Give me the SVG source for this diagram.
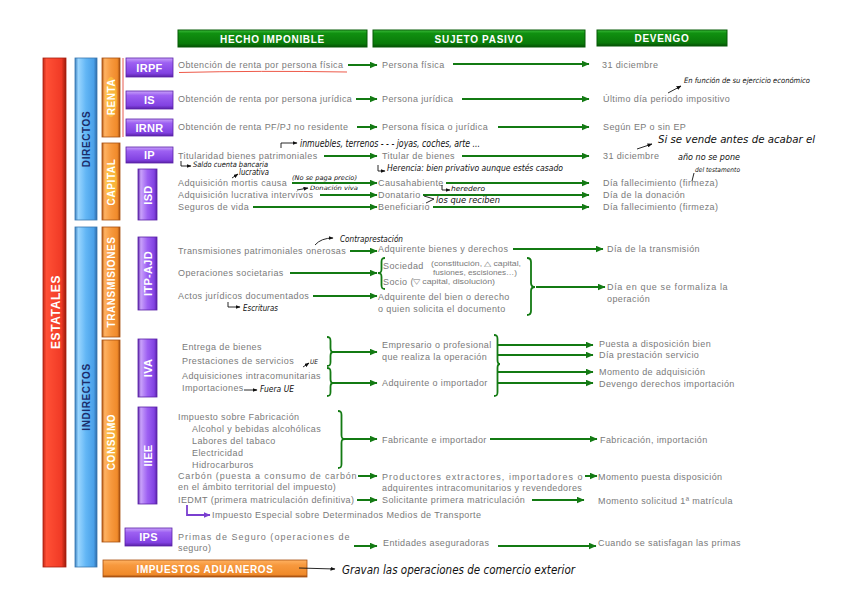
<svg xmlns="http://www.w3.org/2000/svg" width="848" height="599" viewBox="0 0 848 599">
<style>
.t{font-family:"Liberation Sans",Arial,sans-serif;font-size:9px;fill:#7a7a7a;letter-spacing:0.4px}
.s{font-family:"Liberation Sans",Arial,sans-serif;font-size:6.5px;fill:#7a7a7a}
.hw{font-family:"DejaVu Sans Condensed","DejaVu Sans",sans-serif;font-style:italic;fill:#111}
.hd{font-family:"Liberation Sans",Arial,sans-serif;font-size:10px;font-weight:bold;fill:#fff;letter-spacing:0.7px;text-anchor:middle}
.pl{font-family:"Liberation Sans",Arial,sans-serif;font-size:11px;font-weight:bold;fill:#fff;text-anchor:middle;letter-spacing:0.3px}
.ol{font-family:"Liberation Sans",Arial,sans-serif;font-size:10px;font-weight:bold;fill:#fff;text-anchor:middle;letter-spacing:0.6px}
.bl{font-family:"Liberation Sans",Arial,sans-serif;font-size:10px;font-weight:bold;fill:#1b2d6b;text-anchor:middle;letter-spacing:0.6px}
.g{stroke:#137a13;stroke-width:2;fill:none;marker-end:url(#ga)}
.br{stroke:#137a13;stroke-width:1.8;fill:none}
.an{stroke:#111;stroke-width:0.9;fill:none}
.ana{stroke:#111;stroke-width:0.9;fill:none;marker-end:url(#ba)}
</style>
<defs>
<marker id="ga" markerWidth="8" markerHeight="7" refX="7.5" refY="3.5" orient="auto" markerUnits="userSpaceOnUse"><path d="M0,0 L8,3.5 L0,7 z" fill="#137a13"/></marker>
<marker id="ba" markerWidth="5" markerHeight="4" refX="4.5" refY="2" orient="auto" markerUnits="userSpaceOnUse"><path d="M0,0 L5,2 L0,4 z" fill="#111"/></marker>
<marker id="pa" markerWidth="7" markerHeight="6" refX="6.5" refY="3" orient="auto" markerUnits="userSpaceOnUse"><path d="M0,0 L7,3 L0,6 z" fill="#7a3fd0"/></marker>
<linearGradient id="gRed" x1="0" x2="1" y1="0" y2="0"><stop offset="0" stop-color="#c42a18"/><stop offset="0.15" stop-color="#ff5035"/><stop offset="0.8" stop-color="#f03a26"/><stop offset="1" stop-color="#9c1a0a"/></linearGradient>
<linearGradient id="gBlue" x1="0" x2="1" y1="0" y2="0"><stop offset="0" stop-color="#3a80c0"/><stop offset="0.15" stop-color="#9ad6ff"/><stop offset="0.5" stop-color="#62b6f5"/><stop offset="0.85" stop-color="#4aa0e8"/><stop offset="1" stop-color="#2d6aa8"/></linearGradient>
<linearGradient id="gOr" x1="0" x2="1" y1="0" y2="0"><stop offset="0" stop-color="#b45a18"/><stop offset="0.15" stop-color="#ffb262"/><stop offset="0.5" stop-color="#f7993e"/><stop offset="0.85" stop-color="#f08a2a"/><stop offset="1" stop-color="#a04c10"/></linearGradient>
<linearGradient id="gOrH" x1="0" x2="0" y1="0" y2="1"><stop offset="0" stop-color="#ffb262"/><stop offset="0.3" stop-color="#f7993e"/><stop offset="0.85" stop-color="#f08a2a"/><stop offset="1" stop-color="#a04c10"/></linearGradient>
<linearGradient id="gPuH" x1="0" x2="0" y1="0" y2="1"><stop offset="0" stop-color="#c9a2fa"/><stop offset="0.25" stop-color="#9d60f2"/><stop offset="0.8" stop-color="#8242e2"/><stop offset="1" stop-color="#5a22a8"/></linearGradient>
<linearGradient id="gPuV" x1="0" x2="1" y1="0" y2="0"><stop offset="0" stop-color="#5a22a8"/><stop offset="0.15" stop-color="#c9a2fa"/><stop offset="0.5" stop-color="#9d60f2"/><stop offset="0.85" stop-color="#8242e2"/><stop offset="1" stop-color="#5a22a8"/></linearGradient>
<linearGradient id="gGr" x1="0" x2="0" y1="0" y2="1"><stop offset="0" stop-color="#3cbc3c"/><stop offset="0.2" stop-color="#109010"/><stop offset="0.8" stop-color="#0a7a0a"/><stop offset="1" stop-color="#055005"/></linearGradient>
</defs>

<!-- headers -->
<g id="hdr-hecho"><rect x="178" y="30" width="189" height="17" fill="url(#gGr)" stroke="#065a06"/><text class="hd" x="272.5" y="42.5">HECHO IMPONIBLE</text></g>
<g id="hdr-sujeto"><rect x="373" y="30" width="212" height="17" fill="url(#gGr)" stroke="#065a06"/><text class="hd" x="479" y="42.5">SUJETO PASIVO</text></g>
<g id="hdr-devengo"><rect x="597" y="30" width="130" height="16" fill="url(#gGr)" stroke="#065a06"/><text class="hd" x="662" y="42">DEVENGO</text></g>

<!-- left bars -->
<g id="estatales"><rect x="43" y="58" width="23" height="509" fill="url(#gRed)" stroke="#a82010" stroke-width="0.8"/><text transform="translate(59.5,312) rotate(-90)" font-family="Liberation Sans,Arial,sans-serif" font-size="12" font-weight="bold" fill="#fff" text-anchor="middle" letter-spacing="0.6">ESTATALES</text></g>
<g id="directos"><rect x="75" y="58" width="22" height="162" fill="url(#gBlue)" stroke="#3a78b0" stroke-width="0.8"/><text class="bl" transform="translate(89.5,139) rotate(-90)">DIRECTOS</text></g>
<g id="indirectos"><rect x="75" y="227" width="22" height="340" fill="url(#gBlue)" stroke="#3a78b0" stroke-width="0.8"/><text class="bl" transform="translate(89.5,397) rotate(-90)">INDIRECTOS</text></g>
<g id="renta"><rect x="102" y="58" width="18" height="79" fill="url(#gOr)" stroke="#a85010" stroke-width="0.8"/><ellipse cx="111" cy="97" rx="6" ry="20" fill="#ffe040" opacity="0.45"/><text class="ol" transform="translate(114.5,97) rotate(-90)">RENTA</text><line x1="123" y1="58" x2="123" y2="137" stroke="#e85a50" stroke-width="1"/></g>
<g id="capital"><rect x="102" y="143" width="18" height="77" fill="url(#gOr)" stroke="#a85010" stroke-width="0.8"/><ellipse cx="111" cy="182" rx="6" ry="20" fill="#ffe040" opacity="0.45"/><text class="ol" transform="translate(114.5,182) rotate(-90)">CAPITAL</text></g>
<g id="transmisiones"><rect x="102" y="227" width="18" height="110" fill="url(#gOr)" stroke="#a85010" stroke-width="0.8"/><text class="ol" transform="translate(114.5,282) rotate(-90)">TRANSMISIONES</text></g>
<g id="consumo"><rect x="102" y="340" width="18" height="202" fill="url(#gOr)" stroke="#a85010" stroke-width="0.8"/><ellipse cx="111" cy="442" rx="6" ry="26" fill="#ffe040" opacity="0.35"/><text class="ol" transform="translate(114.5,442) rotate(-90)">CONSUMO</text></g>
<g id="aduaneros"><rect x="103" y="560" width="204" height="17" fill="url(#gOrH)" stroke="#a85010" stroke-width="0.8"/><text class="ol" x="205" y="572.5" letter-spacing="0.8">IMPUESTOS ADUANEROS</text></g>

<!-- purple tax boxes -->
<g id="irpf"><rect x="126" y="58" width="47" height="19" fill="url(#gPuH)" stroke="#5a22a8" stroke-width="0.8"/><text class="pl" x="149.5" y="71.5">IRPF</text></g>
<g id="is"><rect x="126" y="91" width="47" height="18" fill="url(#gPuH)" stroke="#5a22a8" stroke-width="0.8"/><text class="pl" x="149.5" y="104">IS</text></g>
<g id="irnr"><rect x="126" y="119" width="47" height="17" fill="url(#gPuH)" stroke="#5a22a8" stroke-width="0.8"/><text class="pl" x="149.5" y="131.5">IRNR</text></g>
<g id="ip"><rect x="126" y="147" width="47" height="16" fill="url(#gPuH)" stroke="#5a22a8" stroke-width="0.8"/><text class="pl" x="149.5" y="159">IP</text></g>
<g id="isd"><rect x="138" y="169" width="19" height="51" fill="url(#gPuV)" stroke="#5a22a8" stroke-width="0.8"/><text class="pl" transform="translate(151.5,195) rotate(-90)">ISD</text></g>
<g id="itp"><rect x="138" y="237" width="19" height="73" fill="url(#gPuV)" stroke="#5a22a8" stroke-width="0.8"/><text class="pl" transform="translate(151.5,273.5) rotate(-90)">ITP-AJD</text></g>
<g id="iva"><rect x="138" y="339" width="19" height="58" fill="url(#gPuV)" stroke="#5a22a8" stroke-width="0.8"/><text class="pl" transform="translate(151.5,368) rotate(-90)">IVA</text></g>
<g id="iiee"><rect x="138" y="407" width="19" height="97" fill="url(#gPuV)" stroke="#5a22a8" stroke-width="0.8"/><text class="pl" transform="translate(151.5,455.5) rotate(-90)">IIEE</text></g>
<g id="ips"><rect x="125" y="528" width="47" height="18" fill="url(#gPuH)" stroke="#5a22a8" stroke-width="0.8"/><text class="pl" x="148.5" y="541">IPS</text></g>

<!-- row texts -->
<g id="row-irpf">
<text class="t" x="178" y="68">Obtención de renta por persona física</text>
<path d="M179,72.5 Q260,70.5 347,72" stroke="#ee5a4a" stroke-width="1" fill="none"/>
<text class="t" x="382" y="68">Persona física</text>
<text class="t" x="602" y="68">31 diciembre</text>
</g>
<g id="row-is">
<text class="t" x="178" y="102">Obtención de renta por persona jurídica</text>
<text class="t" x="382" y="102">Persona jurídica</text>
<text class="t" x="603" y="102">Último día periodo impositivo</text>
</g>
<g id="row-irnr">
<text class="t" x="178" y="130">Obtención de renta PF/PJ no residente</text>
<text class="t" x="382" y="130">Persona física o jurídica</text>
<text class="t" x="603" y="130">Según EP o sin EP</text>
</g>
<g id="row-ip">
<text class="t" x="178" y="159">Titularidad bienes patrimoniales</text>
<text class="t" x="382" y="159">Titular de bienes</text>
<text class="t" x="603" y="159">31 diciembre</text>
</g>
<g id="row-isd">
<text class="t" x="178" y="186">Adquisición mortis causa</text>
<text class="t" x="178" y="198">Adquisición lucrativa intervivos</text>
<text class="t" x="178" y="210">Seguros de vida</text>
<text class="t" x="378" y="186">Causahabiente</text>
<text class="t" x="378" y="198">Donatario</text>
<text class="t" x="378" y="210">Beneficiario</text>
<text class="t" x="603" y="186">Día fallecimiento (firmeza)</text>
<text class="t" x="603" y="198">Día de la donación</text>
<text class="t" x="603" y="210">Día fallecimiento (firmeza)</text>
</g>
<g id="row-itp">
<text class="t" x="178" y="254">Transmisiones patrimoniales onerosas</text>
<text class="t" x="178" y="276">Operaciones societarias</text>
<text class="t" x="178" y="299">Actos jurídicos documentados</text>
<text class="t" x="378" y="252">Adquirente bienes y derechos</text>
<text class="t" x="383" y="269">Sociedad</text>
<text class="s" x="431" y="266" textLength="90" lengthAdjust="spacingAndGlyphs">(constitución, △ capital,</text>
<text class="s" x="433" y="274.5" textLength="84" lengthAdjust="spacingAndGlyphs">fusiones, escisiones…)</text>
<text class="t" x="383" y="285">Socio (</text>
<text class="s" x="413" y="284" textLength="82" lengthAdjust="spacingAndGlyphs">▽ capital, disolución)</text>
<text class="t" x="378" y="300">Adquirente del bien o derecho</text>
<text class="t" x="378" y="312">o quien solicita el documento</text>
<text class="t" x="607" y="252">Día de la transmisión</text>
<text class="t" x="607" y="290" textLength="121" lengthAdjust="spacing">Día en que se formaliza la</text>
<text class="t" x="607" y="302">operación</text>
</g>
<g id="row-iva">
<text class="t" x="182" y="350">Entrega de bienes</text>
<text class="t" x="182" y="364">Prestaciones de servicios</text>
<text class="t" x="182" y="379">Adquisiciones intracomunitarias</text>
<text class="t" x="182" y="391">Importaciones</text>
<text class="t" x="382" y="348">Empresario o profesional</text>
<text class="t" x="382" y="360">que realiza la operación</text>
<text class="t" x="382" y="386">Adquirente o importador</text>
<text class="t" x="599" y="347">Puesta a disposición bien</text>
<text class="t" x="599" y="358">Día prestación servicio</text>
<text class="t" x="599" y="375">Momento de adquisición</text>
<text class="t" x="599" y="387">Devengo derechos importación</text>
</g>
<g id="row-iiee">
<text class="t" x="178" y="420">Impuesto sobre Fabricación</text>
<text class="t" x="192" y="432">Alcohol y bebidas alcohólicas</text>
<text class="t" x="192" y="444">Labores del tabaco</text>
<text class="t" x="192" y="456">Electricidad</text>
<text class="t" x="192" y="468">Hidrocarburos</text>
<text class="t" x="178" y="479" textLength="179" lengthAdjust="spacing">Carbón (puesta a consumo de carbón</text>
<text class="t" x="178" y="490">en el ámbito territorial del impuesto)</text>
<text class="t" x="178" y="503">IEDMT (primera matriculación definitiva)</text>
<text class="t" x="212" y="518">Impuesto Especial sobre Determinados Medios de Transporte</text>
<text class="t" x="382" y="443">Fabricante e importador</text>
<text class="t" x="382" y="480" textLength="201" lengthAdjust="spacing">Productores extractores, importadores o</text>
<text class="t" x="382" y="491">adquirentes intracomunitarios y revendedores</text>
<text class="t" x="382" y="503">Solicitante primera matriculación</text>
<text class="t" x="600" y="443">Fabricación, importación</text>
<text class="t" x="598" y="480">Momento puesta disposición</text>
<text class="t" x="598" y="504">Momento solicitud 1ª matrícula</text>
</g>
<g id="row-ips">
<text class="t" x="178" y="540" textLength="172" lengthAdjust="spacing">Primas de Seguro (operaciones de</text>
<text class="t" x="178" y="551">seguro)</text>
<text class="t" x="383" y="546">Entidades aseguradoras</text>
<text class="t" x="598" y="546">Cuando se satisfagan las primas</text>
</g>

<!-- connectors -->
<g id="connectors">
<path class="g" d="M348,65 H377"/><path class="g" d="M453,64 H589"/>
<path class="g" d="M356,99 H377"/><path class="g" d="M462,99 H589"/>
<path class="g" d="M357,127 H377"/><path class="g" d="M498,127 H589"/>
<path class="g" d="M324,156 H377"/><path class="g" d="M462,156 H589"/>
<path class="g" d="M292,183 H377"/><path class="g" d="M446,183 H589"/>
<path class="g" d="M320,195 H377"/><path class="g" d="M423,195 H589"/>
<path class="g" d="M253,207 H377"/><path class="g" d="M433,207 H589"/>
<path class="g" d="M350,251 H377"/><path class="g" d="M513,249 H603"/>
<path class="g" d="M290,273 H377"/>
<path class="br" d="M385,258 C382,258 381.5,259 381.5,262 V269 C381.5,272 381,273 378,273 C381,273 381.5,274 381.5,277 V285 C381.5,288 382,289 385,289"/>
<path class="g" d="M313,296 H377"/>
<path class="br" d="M527,258 C530,258 531,259 531,262 V283 C531,286 532,287 535,287 C532,287 531,288 531,291 V311 C531,314 530,315 527,315"/>
<path class="g" d="M536,287 H605"/>
<path class="br" d="M327,337 C330,337 330.5,338 330.5,341 V348 C330.5,351 331,352 333,352 C331,352 330.5,353 330.5,356 V362 C330.5,365 330,366 327,366"/>
<path class="g" d="M333,352 H377"/>
<path class="br" d="M327,368 C330,368 330.5,369 330.5,372 V379 C330.5,382 331,383 333,383 C331,383 330.5,384 330.5,387 V392 C330.5,395 330,396 327,396"/>
<path class="g" d="M333,383 H377"/>
<path class="br" d="M494,335 C497,335 497.5,336 497.5,339 V360 C497.5,363 498,364 500,364 C498,364 497.5,365 497.5,368 V392 C497.5,395 497,396 494,396"/>
<path class="g" d="M497,345 H593"/><path class="g" d="M497,355 H593"/>
<path class="g" d="M497,372 H593"/><path class="g" d="M497,383 H593"/>
<path class="br" d="M338,411 C341,411 341.5,412 341.5,415 V435 C341.5,438 342,439 345,439 C342,439 341.5,440 341.5,443 V464 C341.5,467 341,468 338,468"/>
<path class="g" d="M345,439 H377"/><path class="g" d="M490,439 H597"/>
<path class="g" d="M358,476 H377"/><path class="g" d="M585,476 H597"/>
<path class="g" d="M357,500 H377"/><path class="g" d="M532,500 H584"/>
<path d="M187,505 V515 H210" stroke="#7a3fd0" stroke-width="1.8" fill="none" marker-end="url(#pa)"/>
<path class="g" d="M354,546 H377"/><path class="g" d="M498,546 H596"/>
</g>

<!-- handwritten notes -->
<g id="notes">
<path class="ana" d="M668,93 L681,86"/>
<text class="hw" x="684" y="83" font-size="7.5" textLength="126" lengthAdjust="spacingAndGlyphs">En función de su ejercicio económico</text>
<path class="ana" d="M281,148 V143 H297"/>
<text class="hw" x="300" y="147" font-size="10" textLength="180" lengthAdjust="spacingAndGlyphs">inmuebles, terrenos - - - joyas, coches, arte ...</text>
<path class="ana" d="M181,161 V166 H191"/>
<text class="hw" x="193" y="167" font-size="7.5" textLength="75" lengthAdjust="spacingAndGlyphs">Saldo cuenta bancaria</text>
<path class="ana" d="M232,178 L238,174"/>
<text class="hw" x="239" y="175" font-size="8" textLength="30" lengthAdjust="spacingAndGlyphs">lucrativa</text>
<text class="hw" x="292" y="180" font-size="6.5" textLength="65" lengthAdjust="spacingAndGlyphs">(No se paga precio)</text>
<path class="ana" d="M297,190 L308,188"/>
<text class="hw" x="310" y="190" font-size="6" textLength="48" lengthAdjust="spacingAndGlyphs">Donación viva</text>
<path class="ana" d="M378,165 V171 H385"/>
<text class="hw" x="387" y="171" font-size="9" textLength="176" lengthAdjust="spacingAndGlyphs">Herencia: bien privativo aunque estés casado</text>
<path class="ana" d="M442,185 V190 H450"/>
<text class="hw" x="451" y="191" font-size="7" textLength="34" lengthAdjust="spacingAndGlyphs">heredero</text>
<path class="an" d="M424,196 L434,199 L426,203"/>
<text class="hw" x="436" y="203" font-size="8" textLength="64" lengthAdjust="spacingAndGlyphs">los que reciben</text>
<path class="ana" d="M637,149 L652,144"/>
<text class="hw" x="658" y="143" font-size="11" textLength="157" lengthAdjust="spacingAndGlyphs">Si se vende antes de acabar el</text>
<text class="hw" x="678" y="160" font-size="8.5" textLength="62" lengthAdjust="spacingAndGlyphs">año no se pone</text>
<path class="an" d="M694,173 L692,181"/>
<text class="hw" x="695" y="172" font-size="6.5" textLength="45" lengthAdjust="spacingAndGlyphs">del testamento</text>
<path class="ana" d="M315,245 Q321,238 333,238"/>
<text class="hw" x="340" y="242" font-size="8.5" textLength="63" lengthAdjust="spacingAndGlyphs">Contraprestación</text>
<path class="ana" d="M228,302 V307 H240"/>
<text class="hw" x="243" y="311" font-size="8" textLength="35" lengthAdjust="spacingAndGlyphs">Escrituras</text>
<path class="ana" d="M303,367 L309,363"/>
<text class="hw" x="310" y="364" font-size="6.5">UE</text>
<path class="ana" d="M244,390 L257,390"/>
<text class="hw" x="260" y="392" font-size="8" textLength="34" lengthAdjust="spacingAndGlyphs">Fuera UE</text>
<path class="ana" d="M299,568 L335,569"/>
<text class="hw" x="342" y="574" font-size="12" textLength="233" lengthAdjust="spacingAndGlyphs">Gravan las operaciones de comercio exterior</text>
</g>
</svg>
